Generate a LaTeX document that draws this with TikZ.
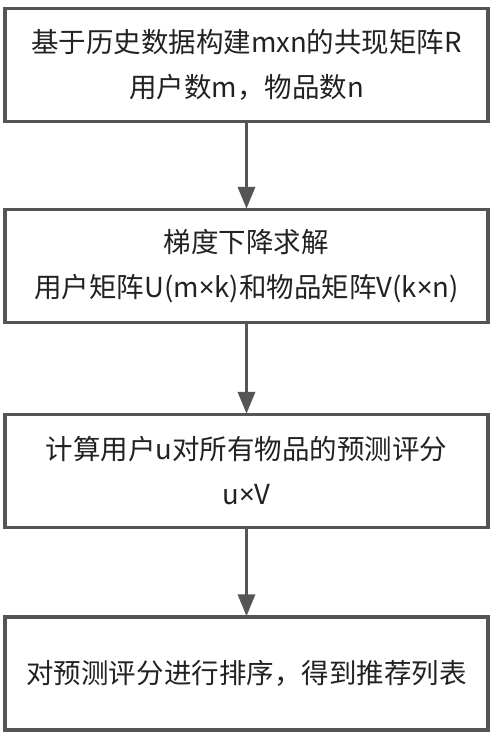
\documentclass[tikz,border=0pt]{standalone}
\usepackage{fontspec}
\setmainfont{Noto Sans CJK SC}
\newfontfamily\latinfam{Noto Sans}
\newcommand{\tms}{{\latinfam ×}}
\usetikzlibrary{arrows.meta}
\definecolor{edgegray}{HTML}{555555}
\definecolor{txtgray}{HTML}{222222}
\tikzset{
  flowbox/.style={draw=edgegray, line width=3.5pt, fill=white, rectangle,
    minimum width=483pt, minimum height=113pt, inner sep=0pt, align=center,
    text=txtgray, font=\fontsize{27.5}{45}\selectfont},
  flowarrow/.style={draw=edgegray, line width=3.5pt,
    -{Triangle[length=22pt,width=17pt]}, shorten >=-1pt}
}
\begin{document}
\begin{tikzpicture}[x=1pt,y=-1pt]
\useasboundingbox[fill=white] (0,0) rectangle (498,739);
\node[flowbox] (b1) at (246.5,65) {基于历史数据构建mxn的共现矩阵R\\用户数m，物品数n};
\node[flowbox] (b2) at (246.5,266) {梯度下降求解\\用户矩阵U(m\tms k)和物品矩阵V(k\tms n)};
\node[flowbox] (b3) at (246.5,471) {计算用户u对所有物品的预测评分\\u\tms V};
\node[flowbox] (b4) at (246.5,673.5) {对预测评分进行排序，得到推荐列表};
\draw[flowarrow] (b1.south) -- (b2.north);
\draw[flowarrow] (b2.south) -- (b3.north);
\draw[flowarrow] (b3.south) -- (b4.north);
\end{tikzpicture}
\end{document}
